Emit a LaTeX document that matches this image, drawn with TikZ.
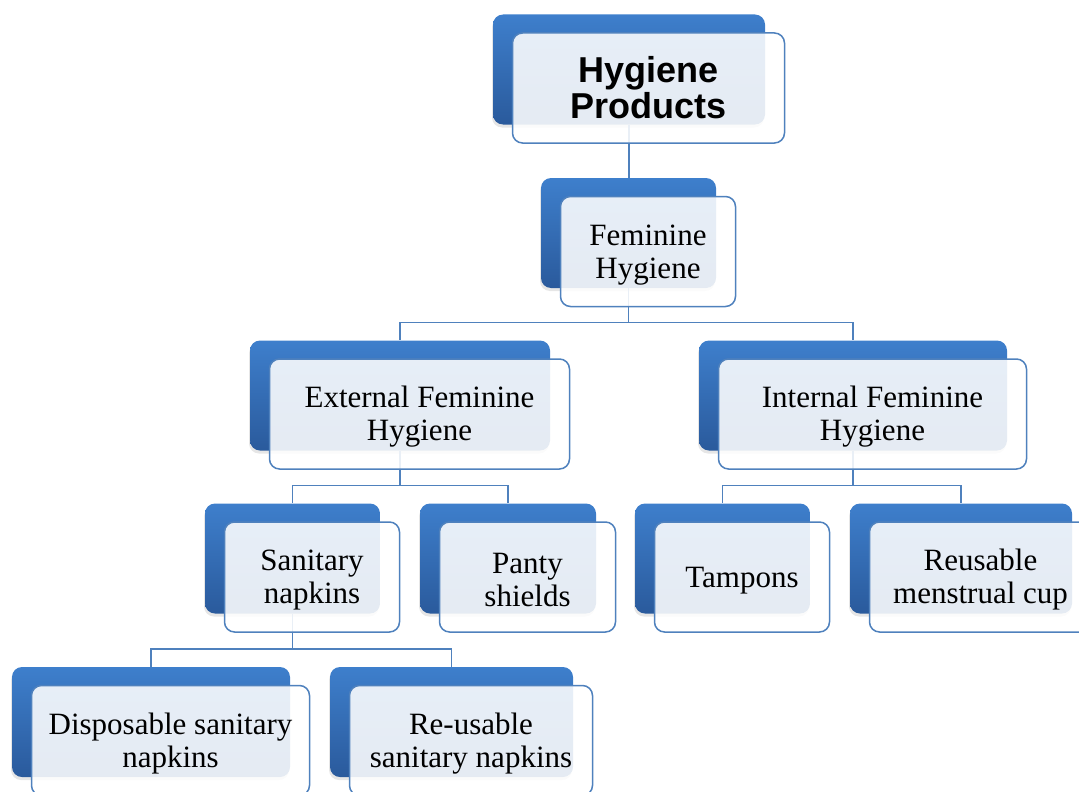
\documentclass[tikz,border=0pt]{standalone}
\usepackage{fontspec}
\setmainfont{Liberation Serif}
\newfontfamily\headfont{Liberation Sans}
\usepackage{tikz}
\usetikzlibrary{shadows}
\definecolor{boxtop}{RGB}{62, 127, 204}
\definecolor{boxbottom}{RGB}{42, 90, 156}
\definecolor{lineblue}{RGB}{79, 129, 189}
\newcommand{\liftline}{\rule{0pt}{27pt}}

\begin{document}
\begin{tikzpicture}[x=1pt, y=-1pt,
    back/.style={rounded corners=10pt, top color=boxtop, bottom color=boxbottom,
      minimum height=110pt, inner sep=0pt,
      drop shadow={shadow xshift=-1pt, shadow yshift=-3pt, opacity=0.2}},
    face/.style={rounded corners=10pt, draw=lineblue, line width=1.5pt,
      fill=white, fill opacity=0.88, text opacity=1,
      minimum height=110pt, inner sep=0pt, align=center,
      font=\fontsize{31}{33}\selectfont, xshift=19.5pt, yshift=-18.5pt},
    conn/.style={draw=lineblue, line width=1.5pt}]
    \useasboundingbox (0,0) rectangle (1079,792);

    % blue boxes behind
    \node[back, minimum width=272pt] (top-b) at (629, 69.5) {};
    \node[back, minimum width=175pt] (fem-b) at (628.5, 233) {};
    \node[back, minimum width=300pt] (ext-b) at (400, 395.5) {};
    \node[back, minimum width=308pt] (int-b) at (853, 395.5) {};
    \node[back, minimum width=175pt] (san-b) at (292.5, 558.5) {};
    \node[back, minimum width=176pt] (pan-b) at (508, 558.5) {};
    \node[back, minimum width=175pt] (tam-b) at (722.5, 558.5) {};
    \node[back, minimum width=222pt] (cup-b) at (961, 558.5) {};
    \node[back, minimum width=278pt] (dis-b) at (151, 722) {};
    \node[back, minimum width=243pt] (reu-b) at (451.5, 722) {};

    % connectors
    \draw[conn] (top-b.south) -- (top-b.south |- fem-b.north);
    \foreach \up/\kid in {fem/ext, fem/int, ext/san, ext/pan, int/tam, int/cup, san/dis, san/reu}
      \draw[conn] (\up-b.south) |- ([yshift=18pt]\kid-b.north) -- (\kid-b.north);

    % front boxes with the texts
    \node[face, minimum width=272pt, font=\headfont\bfseries\fontsize{36}{36}\selectfont]
      (top) at (top-b) {Hygiene\\Products};
    \node[face, minimum width=175pt] (fem) at (fem-b) {\liftline Feminine\\Hygiene};
    \node[face, minimum width=300pt] (ext) at (ext-b) {\liftline External Feminine\\Hygiene};
    \node[face, minimum width=308pt] (int) at (int-b) {\liftline Internal Feminine\\Hygiene};
    \node[face, minimum width=175pt] (san) at (san-b) {\liftline Sanitary\\napkins};
    \node[face, minimum width=176pt] (pan) at (pan-b) {\liftline Panty\\shields};
    \node[face, minimum width=175pt] (tam) at (tam-b) {\liftline Tampons};
    \node[face, minimum width=222pt] (cup) at (cup-b) {\liftline Reusable\\menstrual cup};
    \node[face, minimum width=278pt] (dis) at (dis-b) {\liftline Disposable sanitary\\napkins};
    \node[face, minimum width=243pt] (reu) at (reu-b) {\liftline Re-usable\\sanitary napkins};
  \end{tikzpicture}
\end{document}
